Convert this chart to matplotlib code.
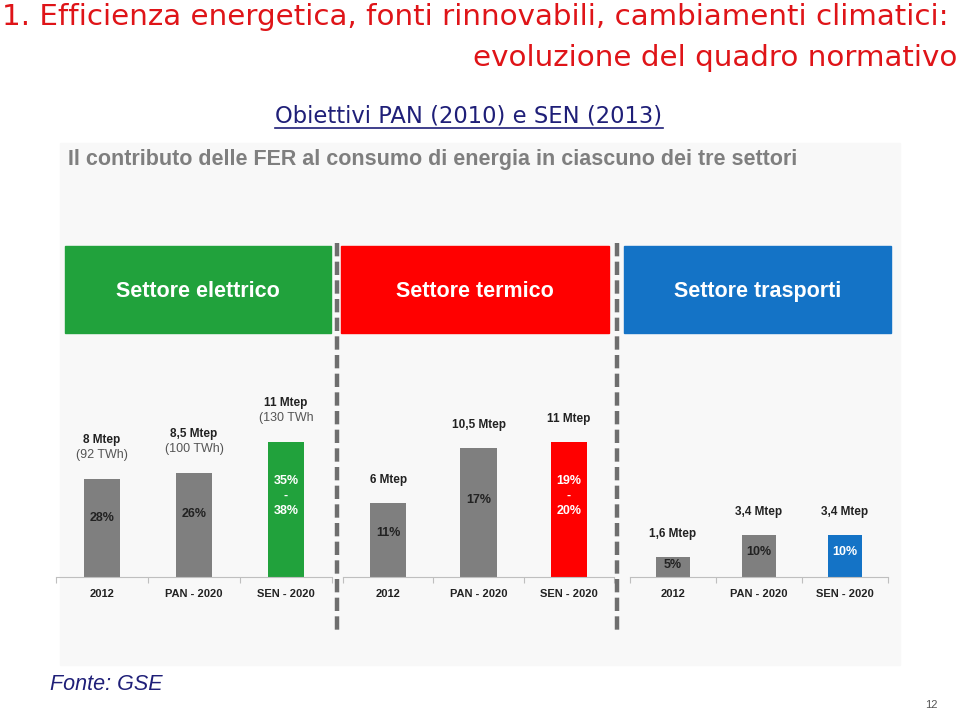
#!/usr/bin/env python3
# -*- coding: utf-8 -*-

import matplotlib
matplotlib.use('Agg')
import matplotlib.pyplot as plt
from matplotlib.patches import Rectangle
from matplotlib.lines import Line2D

plt.rcParams['font.family'] = ['Liberation Sans', 'DejaVu Sans']

# data
categories = ["2012", "PAN - 2020", "SEN - 2020"]
sectors = ["Settore elettrico", "Settore termico", "Settore trasporti"]
sector_colors = ["#21A23C", "#FF0000", "#1473C6"]

mtep_elettrico = [8, 8.5, 11]
mtep_termico = [6, 10.5, 11]
mtep_trasporti = [1.6, 3.4, 3.4]

mtep_labels_elettrico = ["8 Mtep", "8,5 Mtep", "11 Mtep"]
mtep_labels_termico = ["6 Mtep", "10,5 Mtep", "11 Mtep"]
mtep_labels_trasporti = ["1,6 Mtep", "3,4 Mtep", "3,4 Mtep"]
twh_labels_elettrico = ["(92 TWh)", "(100 TWh)", "(130 TWh"]

pct_elettrico = ["28%", "26%", "35%\n-\n38%"]
pct_termico = ["11%", "17%", "19%\n-\n20%"]
pct_trasporti = ["5%", "10%", "10%"]

W, H = 960, 713


def fx(x):
    return x / W


def fy(y):
    return 1 - y / H


fig = plt.figure(figsize=(9.6, 7.13), dpi=100)

# titles
title_color = '#DF1418'
fig.text(fx(2), fy(17), "1. Efficienza energetica, fonti rinnovabili, cambiamenti climatici:",
         color=title_color, fontsize=21.2, family='DejaVu Sans', ha='left', va='center')
fig.text(fx(957), fy(58), "evoluzione del quadro normativo",
         color=title_color, fontsize=21.2, family='DejaVu Sans', ha='right', va='center')
fig.text(fx(469), fy(116), "Obiettivi PAN (2010) e SEN (2013)",
         color='#1F1F78', fontsize=16.3, family='DejaVu Sans', ha='center', va='center')
fig.add_artist(Line2D([fx(275), fx(663)], [fy(128), fy(128)], transform=fig.transFigure,
                      color='#1F1F78', lw=1.2))

# light panel behind the image
fig.add_artist(Rectangle((fx(60), fy(665)), fx(840), (665 - 143) / H,
                         transform=fig.transFigure, color='#F8F8F8', zorder=0))
fig.text(fx(68), fy(160), "Il contributo delle FER al consumo di energia in ciascuno dei tre settori",
         color='#7F7F7F', fontsize=15.5, fontweight='bold', ha='left', va='center')

# sector header boxes
boxes = [(65, 331), (341, 609), (624, 891)]
for (x0, x1), name, col in zip(boxes, sectors, sector_colors):
    fig.add_artist(Rectangle((fx(x0), fy(333)), fx(x1 - x0), (333 - 246) / H,
                             transform=fig.transFigure, color=col, zorder=1))
    fig.text(fx((x0 + x1) / 2), fy(291), name, color='white', fontsize=15.5,
             fontweight='bold', ha='center', va='center')

# dashed dividers
for xd in [337, 617]:
    fig.add_artist(Line2D([fx(xd), fx(xd)], [fy(243), fy(635)], transform=fig.transFigure,
                          color='#6E6E6E', lw=3.2, ls=(0, (3, 1.2)), zorder=2))

panels = [
    (56, 276, mtep_elettrico, mtep_labels_elettrico, twh_labels_elettrico, pct_elettrico, sector_colors[0]),
    (343, 271, mtep_termico, mtep_labels_termico, None, pct_termico, sector_colors[1]),
    (630, 258, mtep_trasporti, mtep_labels_trasporti, None, pct_trasporti, sector_colors[2]),
]

for left, width, vals, mlabels, tlabels, pcts, col in panels:
    ax = fig.add_axes([fx(left), fy(577), fx(width), 227 / H])
    ax.set_facecolor('none')
    x = range(len(categories))
    colors = ['#7F7F7F', '#7F7F7F', col]
    ax.bar(x, vals, width=0.4, color=colors)
    ax.set_xlim(-0.5, 2.5)
    ax.set_ylim(0, 18.5)
    for s in ['top', 'right', 'left']:
        ax.spines[s].set_visible(False)
    ax.spines['bottom'].set_color('#BFBFBF')
    ax.set_yticks([])
    ax.set_xticks([-0.5, 0.5, 1.5, 2.5])
    ax.set_xticklabels([])
    ax.tick_params(axis='x', length=4, color='#BFBFBF')
    for i, cat in enumerate(categories):
        ax.annotate(cat, (i, 0), xytext=(0, -17), textcoords='offset pixels',
                    ha='center', va='center', fontsize=8, fontweight='bold', color='#222222')
        v = vals[i]
        if tlabels is not None:
            ax.annotate(tlabels[i], (i, v), xytext=(0, 24), textcoords='offset pixels',
                        ha='center', va='center', fontsize=9, color='#555555')
            ax.annotate(mlabels[i], (i, v), xytext=(0, 39), textcoords='offset pixels',
                        ha='center', va='center', fontsize=8.5, fontweight='bold', color='#222222')
        else:
            ax.annotate(mlabels[i], (i, v), xytext=(0, 23), textcoords='offset pixels',
                        ha='center', va='center', fontsize=8.5, fontweight='bold', color='#222222')
        tc = 'white' if i == 2 else '#222222'
        ax.text(i, v * 0.6, pcts[i], ha='center', va='center', fontsize=9,
                fontweight='bold', color=tc, linespacing=1.3)

fig.text(fx(50), fy(685), "Fonte: GSE", color='#1F1F78', fontsize=15.5, style='italic',
         ha='left', va='center')
fig.text(fx(938), fy(705), "12", color='#555555', fontsize=8, ha='right', va='center')

plt.savefig('out.png', dpi=100)
